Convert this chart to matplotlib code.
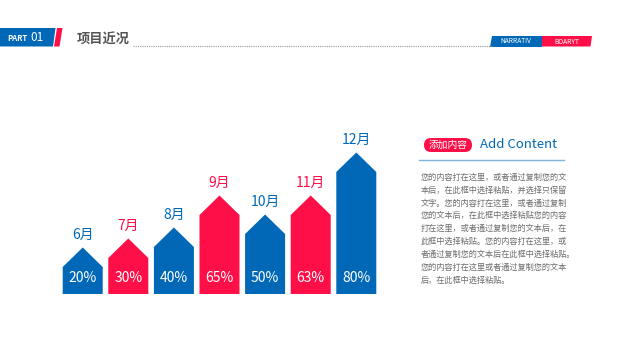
import matplotlib.pyplot as plt
from matplotlib.patches import Polygon, FancyBboxPatch

plt.rcParams['font.family'] = ['Noto Sans CJK SC', 'DejaVu Sans']

BLUE = '#0068B7'
RED = '#FF0F48'
GRAY = '#6d6d6d'

# data
months = ['6月', '7月', '8月', '9月', '10月', '11月', '12月']
pct_labels = ['20%', '30%', '40%', '65%', '50%', '63%', '80%']
bar_height = [27, 36, 47, 79, 60, 79, 122]   # shoulder height
bar_color = [BLUE, RED, BLUE, RED, BLUE, RED, BLUE]

body_lines = [
    '您的内容打在这里，或者通过复制您的文',
    '本后，在此框中选择粘贴，并选择只保留',
    '文字。您的内容打在这里，或者通过复制',
    '您的文本后，在此框中选择粘贴您的内容',
    '打在这里，或者通过复制您的文本后，在',
    '此框中选择粘贴。您的内容打在这里，或',
    '者通过复制您的文本后在此框中选择粘贴。',
    '您的内容打在这里或者通过复制您的文本',
    '后，在此框中选择粘贴。',
]

fig = plt.figure(figsize=(6.35, 3.61), dpi=100)
ax = fig.add_axes([0, 0, 1, 1])
ax.set_xlim(0, 635)
ax.set_ylim(361, 0)
ax.axis('off')

# header
ax.add_patch(Polygon([(0, 28), (55.5, 28), (53, 46.5), (0, 46.5)], closed=True, color=BLUE, lw=0))
ax.add_patch(Polygon([(57, 28), (62.5, 28), (59.5, 46.5), (54, 46.5)], closed=True, color=RED, lw=0))
ax.text(7, 38.5, 'PART', color='white', fontsize=5.5, fontweight='bold', va='center', ha='left')
ax.text(30, 37.5, '01', color='white', fontsize=8.5, va='center', ha='left')
ax.text(77, 40, '项目近况', color='#555555', fontsize=9.5, fontweight='bold', va='center', ha='left')
ax.plot([133, 492], [46, 46], color='#9a9a9a', lw=0.8, ls=(0, (1, 1)))

ax.add_patch(Polygon([(492, 36), (542, 36), (542, 46.5), (490, 46.5)], closed=True, color=BLUE, lw=0))
ax.add_patch(Polygon([(542, 36), (592, 36), (590.5, 46.5), (542, 46.5)], closed=True, color=RED, lw=0))
ax.text(516, 41, 'NARRATIV', color='white', fontsize=4.8, va='center', ha='center')
ax.text(567, 41.5, 'BOARYT', color='white', fontsize=4.8, va='center', ha='center')

# arrow bars
base = 294
width = 40
apex = 19.5
for i, (h, c) in enumerate(zip(bar_height, bar_color)):
    left = 62.7 + i * 45.6
    right = left + width
    top = base - h
    ax.add_patch(Polygon([(left, base), (left, top), ((left + right) / 2, top - apex),
                          (right, top), (right, base)], closed=True, color=c, lw=0))
    ax.text((left + right) / 2, top - apex - 13, months[i], color=c, fontsize=10,
            ha='center', va='center')
    ax.text((left + right) / 2, 277.5, pct_labels[i], color='white', fontsize=10,
            ha='center', va='center')

# right text panel
ax.add_patch(FancyBboxPatch((424, 138), 48, 14, boxstyle='round,pad=0,rounding_size=7',
                            color=RED, lw=0))
ax.text(448, 145, '添加内容', color='white', fontsize=7, ha='center', va='center')
ax.text(480, 145, 'Add Content', color=BLUE, fontsize=9.5, ha='left', va='center')
ax.plot([419, 564], [160, 160], color='#7fb2e0', lw=1)

for k, line in enumerate(body_lines):
    ax.text(420.5, 177.3 + k * 12.85, line, color=GRAY, fontsize=5.9, ha='left', va='center')

fig.savefig('out.png', dpi=100)
